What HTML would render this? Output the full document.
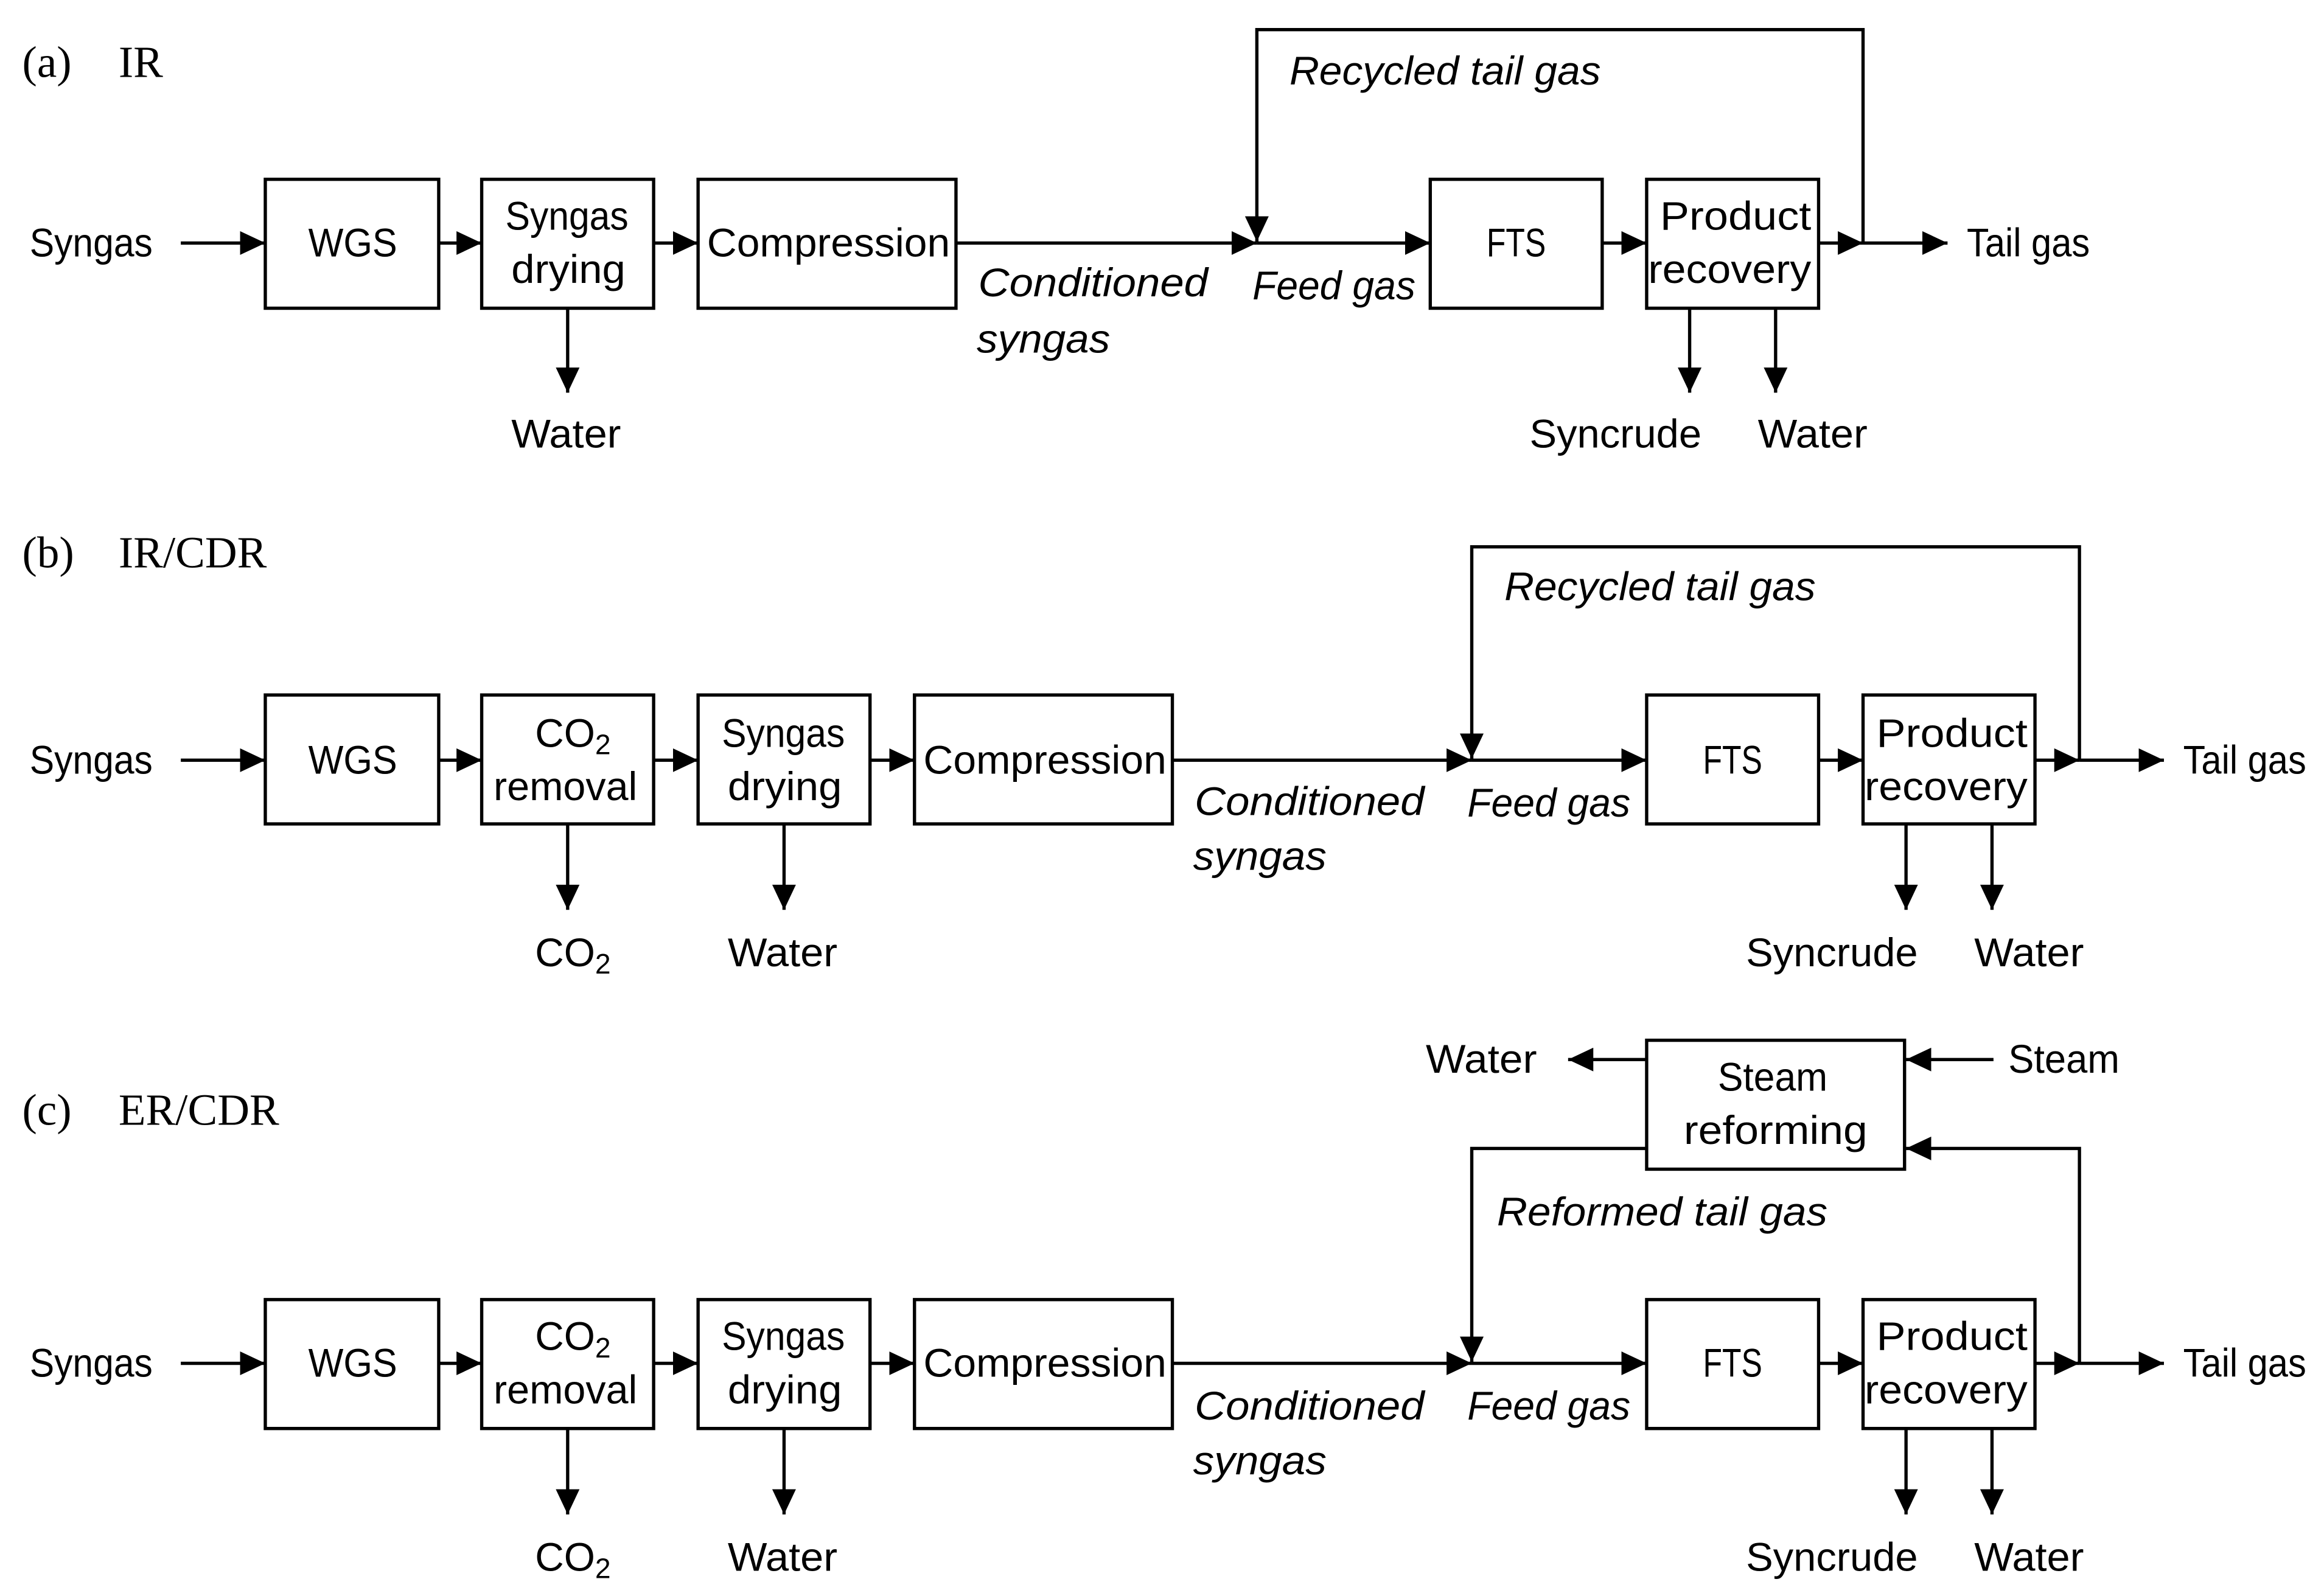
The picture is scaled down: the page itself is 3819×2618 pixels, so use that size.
<!DOCTYPE html>
<html><head><meta charset="utf-8"><style>
html,body{margin:0;padding:0;background:#fff;}
svg{display:block;}
text{font-family:"Liberation Sans",sans-serif;font-size:27px;fill:#000;}
.i{font-style:italic;}
.t{font-family:"Liberation Serif",serif;font-size:30px;}
</style></head><body>
<svg width="3819" height="2618" viewBox="0 0 1568 1075" preserveAspectRatio="none" xmlns="http://www.w3.org/2000/svg">
<defs>
<marker id="a" markerUnits="userSpaceOnUse" markerWidth="17" markerHeight="16" refX="17" refY="8" orient="auto">
<path d="M0,0 L17,8 L0,16 z" fill="#000"/></marker>
</defs>
<g fill="none" stroke="#000" stroke-width="2.2">
<!-- Panel a -->
<rect x="179" y="121" width="117" height="87"/>
<rect x="325" y="121" width="116" height="87"/>
<rect x="471" y="121" width="174" height="87"/>
<rect x="965" y="121" width="116" height="87"/>
<rect x="1111" y="121" width="116" height="87"/>
<line x1="122" y1="164" x2="179" y2="164" marker-end="url(#a)"/>
<line x1="296" y1="164" x2="325" y2="164" marker-end="url(#a)"/>
<line x1="441" y1="164" x2="471" y2="164" marker-end="url(#a)"/>
<line x1="645" y1="164" x2="848" y2="164" marker-end="url(#a)"/>
<line x1="848" y1="164" x2="965" y2="164" marker-end="url(#a)"/>
<line x1="1081" y1="164" x2="1111" y2="164" marker-end="url(#a)"/>
<line x1="1227" y1="164" x2="1257" y2="164" marker-end="url(#a)"/>
<line x1="1257" y1="164" x2="1314" y2="164" marker-end="url(#a)"/>
<path d="M1257,164 V20 H848 V163" marker-end="url(#a)"/>
<line x1="383" y1="208" x2="383" y2="265" marker-end="url(#a)"/>
<line x1="1140" y1="208" x2="1140" y2="265" marker-end="url(#a)"/>
<line x1="1198" y1="208" x2="1198" y2="265" marker-end="url(#a)"/>

<!-- Panel b -->
<rect x="179" y="469" width="117" height="87"/>
<rect x="325" y="469" width="116" height="87"/>
<rect x="471" y="469" width="116" height="87"/>
<rect x="617" y="469" width="174" height="87"/>
<rect x="1111" y="469" width="116" height="87"/>
<rect x="1257" y="469" width="116" height="87"/>
<line x1="122" y1="513" x2="179" y2="513" marker-end="url(#a)"/>
<line x1="296" y1="513" x2="325" y2="513" marker-end="url(#a)"/>
<line x1="441" y1="513" x2="471" y2="513" marker-end="url(#a)"/>
<line x1="587" y1="513" x2="617" y2="513" marker-end="url(#a)"/>
<line x1="791" y1="513" x2="993" y2="513" marker-end="url(#a)"/>
<line x1="993" y1="513" x2="1111" y2="513" marker-end="url(#a)"/>
<line x1="1227" y1="513" x2="1257" y2="513" marker-end="url(#a)"/>
<line x1="1373" y1="513" x2="1403" y2="513" marker-end="url(#a)"/>
<line x1="1403" y1="513" x2="1460" y2="513" marker-end="url(#a)"/>
<path d="M1403,513 V369 H993 V512" marker-end="url(#a)"/>
<line x1="383" y1="556" x2="383" y2="614" marker-end="url(#a)"/>
<line x1="529" y1="556" x2="529" y2="614" marker-end="url(#a)"/>
<line x1="1286" y1="556" x2="1286" y2="614" marker-end="url(#a)"/>
<line x1="1344" y1="556" x2="1344" y2="614" marker-end="url(#a)"/>

<!-- Panel c -->
<rect x="179" y="877" width="117" height="87"/>
<rect x="325" y="877" width="116" height="87"/>
<rect x="471" y="877" width="116" height="87"/>
<rect x="617" y="877" width="174" height="87"/>
<rect x="1111" y="877" width="116" height="87"/>
<rect x="1257" y="877" width="116" height="87"/>
<rect x="1111" y="702" width="174" height="87"/>
<line x1="122" y1="920" x2="179" y2="920" marker-end="url(#a)"/>
<line x1="296" y1="920" x2="325" y2="920" marker-end="url(#a)"/>
<line x1="441" y1="920" x2="471" y2="920" marker-end="url(#a)"/>
<line x1="587" y1="920" x2="617" y2="920" marker-end="url(#a)"/>
<line x1="791" y1="920" x2="993" y2="920" marker-end="url(#a)"/>
<line x1="993" y1="920" x2="1111" y2="920" marker-end="url(#a)"/>
<line x1="1227" y1="920" x2="1257" y2="920" marker-end="url(#a)"/>
<line x1="1373" y1="920" x2="1403" y2="920" marker-end="url(#a)"/>
<line x1="1403" y1="920" x2="1460" y2="920" marker-end="url(#a)"/>
<path d="M1403,920 V775 H1286" marker-end="url(#a)"/>
<path d="M1111,775 H993 V919" marker-end="url(#a)"/>
<line x1="1111" y1="715" x2="1058" y2="715" marker-end="url(#a)"/>
<line x1="1345" y1="715" x2="1286" y2="715" marker-end="url(#a)"/>
<line x1="383" y1="964" x2="383" y2="1022" marker-end="url(#a)"/>
<line x1="529" y1="964" x2="529" y2="1022" marker-end="url(#a)"/>
<line x1="1286" y1="964" x2="1286" y2="1022" marker-end="url(#a)"/>
<line x1="1344" y1="964" x2="1344" y2="1022" marker-end="url(#a)"/>
</g>

<!-- Titles -->
<text class="t" x="15" y="52">(a)</text><text class="t" x="80" y="52">IR</text>
<text class="t" x="15" y="383">(b)</text><text class="t" x="80" y="383">IR/CDR</text>
<text class="t" x="15" y="759">(c)</text><text class="t" x="80" y="759">ER/CDR</text>

<!-- Panel a text -->
<text x="20" y="173" textLength="83" lengthAdjust="spacingAndGlyphs">Syngas</text>
<text x="208" y="173" textLength="60" lengthAdjust="spacingAndGlyphs">WGS</text>
<text x="341" y="155" textLength="83" lengthAdjust="spacingAndGlyphs">Syngas</text>
<text x="345" y="191" textLength="77" lengthAdjust="spacingAndGlyphs">drying</text>
<text x="477" y="173" textLength="164" lengthAdjust="spacingAndGlyphs">Compression</text>
<text x="1003" y="173" textLength="40" lengthAdjust="spacingAndGlyphs">FTS</text>
<text x="1120" y="155" textLength="102" lengthAdjust="spacingAndGlyphs">Product</text>
<text x="1112" y="191" textLength="110" lengthAdjust="spacingAndGlyphs">recovery</text>
<text x="1327" y="173" textLength="83" lengthAdjust="spacingAndGlyphs">Tail gas</text>
<text x="345" y="302" textLength="74" lengthAdjust="spacingAndGlyphs">Water</text>
<text x="1032" y="302" textLength="116" lengthAdjust="spacingAndGlyphs">Syncrude</text>
<text x="1186" y="302" textLength="74" lengthAdjust="spacingAndGlyphs">Water</text>
<text class="i" x="870" y="57" textLength="210" lengthAdjust="spacingAndGlyphs">Recycled tail gas</text>
<text class="i" x="660" y="200" textLength="155" lengthAdjust="spacingAndGlyphs">Conditioned</text>
<text class="i" x="659" y="238" textLength="90" lengthAdjust="spacingAndGlyphs">syngas</text>
<text class="i" x="845" y="202" textLength="110" lengthAdjust="spacingAndGlyphs">Feed gas</text>

<!-- Panel b text -->
<text x="20" y="522" textLength="83" lengthAdjust="spacingAndGlyphs">Syngas</text>
<text x="208" y="522" textLength="60" lengthAdjust="spacingAndGlyphs">WGS</text>
<text x="361" y="504">CO<tspan font-size="19" dy="5">2</tspan></text>
<text x="333" y="540" textLength="97" lengthAdjust="spacingAndGlyphs">removal</text>
<text x="487" y="504" textLength="83" lengthAdjust="spacingAndGlyphs">Syngas</text>
<text x="491" y="540" textLength="77" lengthAdjust="spacingAndGlyphs">drying</text>
<text x="623" y="522" textLength="164" lengthAdjust="spacingAndGlyphs">Compression</text>
<text x="1149" y="522" textLength="40" lengthAdjust="spacingAndGlyphs">FTS</text>
<text x="1266" y="504" textLength="102" lengthAdjust="spacingAndGlyphs">Product</text>
<text x="1258" y="540" textLength="110" lengthAdjust="spacingAndGlyphs">recovery</text>
<text x="1473" y="522" textLength="83" lengthAdjust="spacingAndGlyphs">Tail gas</text>
<text x="361" y="652">CO<tspan font-size="19" dy="5">2</tspan></text>
<text x="491" y="652" textLength="74" lengthAdjust="spacingAndGlyphs">Water</text>
<text x="1178" y="652" textLength="116" lengthAdjust="spacingAndGlyphs">Syncrude</text>
<text x="1332" y="652" textLength="74" lengthAdjust="spacingAndGlyphs">Water</text>
<text class="i" x="1015" y="405" textLength="210" lengthAdjust="spacingAndGlyphs">Recycled tail gas</text>
<text class="i" x="806" y="550" textLength="155" lengthAdjust="spacingAndGlyphs">Conditioned</text>
<text class="i" x="805" y="587" textLength="90" lengthAdjust="spacingAndGlyphs">syngas</text>
<text class="i" x="990" y="551" textLength="110" lengthAdjust="spacingAndGlyphs">Feed gas</text>

<!-- Panel c text -->
<text x="20" y="929" textLength="83" lengthAdjust="spacingAndGlyphs">Syngas</text>
<text x="208" y="929" textLength="60" lengthAdjust="spacingAndGlyphs">WGS</text>
<text x="361" y="911">CO<tspan font-size="19" dy="5">2</tspan></text>
<text x="333" y="947" textLength="97" lengthAdjust="spacingAndGlyphs">removal</text>
<text x="487" y="911" textLength="83" lengthAdjust="spacingAndGlyphs">Syngas</text>
<text x="491" y="947" textLength="77" lengthAdjust="spacingAndGlyphs">drying</text>
<text x="623" y="929" textLength="164" lengthAdjust="spacingAndGlyphs">Compression</text>
<text x="1149" y="929" textLength="40" lengthAdjust="spacingAndGlyphs">FTS</text>
<text x="1266" y="911" textLength="102" lengthAdjust="spacingAndGlyphs">Product</text>
<text x="1258" y="947" textLength="110" lengthAdjust="spacingAndGlyphs">recovery</text>
<text x="1473" y="929" textLength="83" lengthAdjust="spacingAndGlyphs">Tail gas</text>
<text x="361" y="1060">CO<tspan font-size="19" dy="5">2</tspan></text>
<text x="491" y="1060" textLength="74" lengthAdjust="spacingAndGlyphs">Water</text>
<text x="1178" y="1060" textLength="116" lengthAdjust="spacingAndGlyphs">Syncrude</text>
<text x="1332" y="1060" textLength="74" lengthAdjust="spacingAndGlyphs">Water</text>
<text class="i" x="806" y="958" textLength="155" lengthAdjust="spacingAndGlyphs">Conditioned</text>
<text class="i" x="805" y="995" textLength="90" lengthAdjust="spacingAndGlyphs">syngas</text>
<text class="i" x="990" y="958" textLength="110" lengthAdjust="spacingAndGlyphs">Feed gas</text>
<text class="i" x="1010" y="827" textLength="223" lengthAdjust="spacingAndGlyphs">Reformed tail gas</text>
<text x="1159" y="736" textLength="74" lengthAdjust="spacingAndGlyphs">Steam</text>
<text x="1136" y="772" textLength="124" lengthAdjust="spacingAndGlyphs">reforming</text>
<text x="962" y="724" textLength="75" lengthAdjust="spacingAndGlyphs">Water</text>
<text x="1355" y="724" textLength="75" lengthAdjust="spacingAndGlyphs">Steam</text>
</svg>
</body></html>
